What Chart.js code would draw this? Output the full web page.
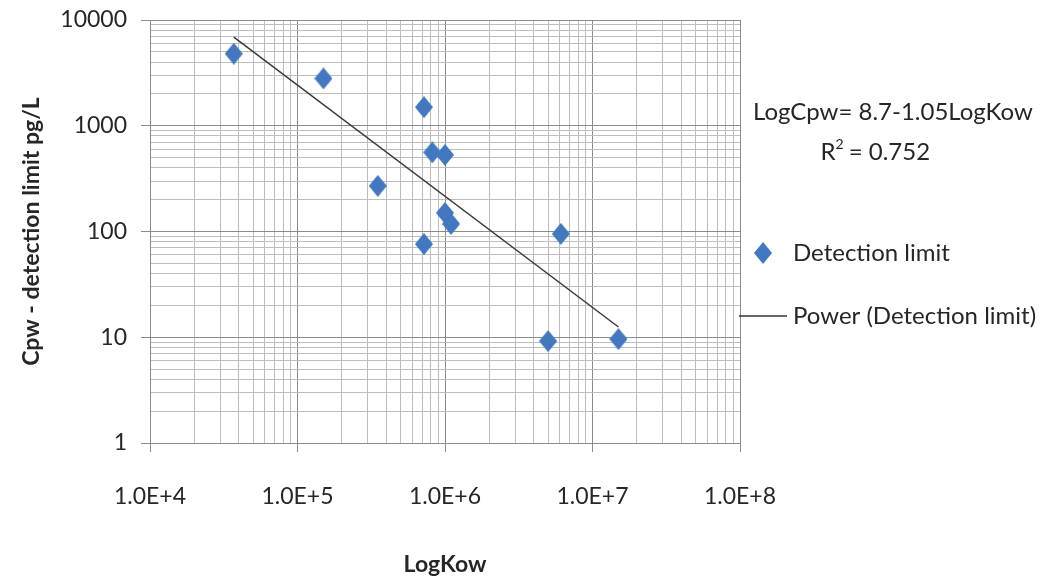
<!DOCTYPE html>
<html>
<head>
<meta charset="utf-8">
<script src="https://cdn.jsdelivr.net/npm/chart.js@4"></script>
<style>
  body { margin: 0; background: #fff; }
  canvas { display: block; }
</style>
</head>
<body>
<canvas id="grafico" width="1047" height="578"></canvas>
<script>
// data
const kow = [3.7e4, 1.5e5, 7.2e5, 8.2e5, 1.0e6, 3.5e5, 1.0e6, 1.1e6, 7.2e5, 6.1e6, 5.0e6, 1.5e7];
const cpw = [4800, 2800, 1500, 560, 530, 270, 150, 118, 76, 95, 9.2, 9.6];

// power trend line end points
const trendKow = [3.7e4, 1.5e7];
const trendCpw = [6900, 12.5];

const xDecades = [1e4, 1e5, 1e6, 1e7, 1e8];
const yDecades = [1, 10, 100, 1000, 10000];

const FONT = "Lato, 'Open Sans', sans-serif";
const BLUE = "#4178c0";

function diamond(w, h) {
  const c = document.createElement("canvas");
  c.width = w; c.height = h;
  const g = c.getContext("2d");
  g.fillStyle = BLUE;
  g.beginPath();
  g.moveTo(w / 2, 0);
  g.lineTo(w, h / 2);
  g.lineTo(w / 2, h);
  g.lineTo(0, h / 2);
  g.closePath();
  g.fill();
  return c;
}
const marker = diamond(18, 22);

function logTicks(decades) {
  const ticks = [];
  decades.forEach((d, i) => {
    if (i === decades.length - 1) { ticks.push({ value: d }); return; }
    for (let k = 1; k <= 9; k++) ticks.push({ value: d * k });
  });
  return ticks;
}
const isDecade = v => Math.abs(Math.log10(v) - Math.round(Math.log10(v))) < 1e-9;

const gridColor = c => c.tick && isDecade(c.tick.value) ? "#8c8c8c" : "#bdbdbd";
const tickMark = c => c.tick && isDecade(c.tick.value) ? "#8c8c8c" : "rgba(0,0,0,0)";

const legendaDireita = {
  id: "legendaDireita",
  afterDraw(chart) {
    const ctx = chart.ctx;
    ctx.save();
    ctx.fillStyle = "#262626";
    ctx.textBaseline = "middle";
    ctx.font = `24px ${FONT}`;
    ctx.textAlign = "left";
    ctx.fillText("LogCpw= 8.7-1.05LogKow", 753, 112);
    ctx.textAlign = "center";
    ctx.fillText("R", 828, 152);
    const rw = ctx.measureText("R").width;
    ctx.font = `14px ${FONT}`;
    ctx.fillText("2", 828 + rw / 2 + 4, 144);
    ctx.font = `24px ${FONT}`;
    ctx.textAlign = "left";
    ctx.fillText(" = 0.752", 828 + rw / 2 + 7, 152);

    ctx.drawImage(marker, 763 - 9, 253 - 11);
    ctx.fillText("Detection limit", 793, 253);

    ctx.strokeStyle = "#333";
    ctx.lineWidth = 1.5;
    ctx.beginPath();
    ctx.moveTo(739, 316);
    ctx.lineTo(787, 316);
    ctx.stroke();
    ctx.fillText("Power (Detection limit)", 793, 316);
    ctx.restore();
  }
};

new Chart(document.getElementById("grafico"), {
  type: "scatter",
  data: {
    datasets: [
      {
        label: "Power (Detection limit)",
        data: trendKow.map((x, i) => ({ x, y: trendCpw[i] })),
        showLine: true,
        borderColor: "#3a3a3a",
        borderWidth: 1.5,
        pointRadius: 0,
        order: 2
      },
      {
        label: "Detection limit",
        data: kow.map((x, i) => ({ x, y: cpw[i] })),
        pointStyle: marker,
        pointRadius: 11,
        backgroundColor: BLUE,
        order: 1
      }
    ]
  },
  options: {
    responsive: false,
    animation: false,
    layout: { padding: { top: 20, right: 307, left: 0, bottom: 0 } },
    plugins: { legend: { display: false }, tooltip: { enabled: false } },
    scales: {
      x: {
        type: "logarithmic",
        min: 1e4,
        max: 1e8,
        afterBuildTicks: s => { s.ticks = logTicks(xDecades); },
        afterFit: s => { s.height = 135; s.paddingLeft = 0; s.paddingRight = 0; },
        grid: { color: gridColor, tickColor: tickMark, tickLength: 9, lineWidth: 1 },
        border: { color: "#8c8c8c" },
        ticks: {
          autoSkip: false,
          maxRotation: 0,
          padding: 31,
          color: "#262626",
          font: { family: FONT, size: 23 },
          callback: v => isDecade(v) ? "1.0E+" + Math.round(Math.log10(v)) : ""
        },
        title: {
          display: true,
          text: "LogKow",
          color: "#262626",
          font: { family: FONT, size: 23, weight: "bold" },
          padding: { top: 0, bottom: 0 }
        }
      },
      y: {
        type: "logarithmic",
        min: 1,
        max: 10000,
        afterBuildTicks: s => { s.ticks = logTicks(yDecades); },
        afterFit: s => { s.width = 150; s.paddingTop = 0; s.paddingBottom = 0; },
        grid: { color: gridColor, tickColor: tickMark, tickLength: 9, lineWidth: 1 },
        border: { color: "#8c8c8c" },
        ticks: {
          autoSkip: false,
          padding: 14,
          color: "#262626",
          font: { family: FONT, size: 23 },
          callback: v => isDecade(v) ? String(v) : ""
        },
        title: {
          display: true,
          text: "Cpw - detection limit pg/L",
          color: "#262626",
          font: { family: FONT, size: 23, weight: "bold" },
          padding: { top: 18, bottom: 0 }
        }
      }
    }
  },
  plugins: [legendaDireita]
});
</script>
</body>
</html>
